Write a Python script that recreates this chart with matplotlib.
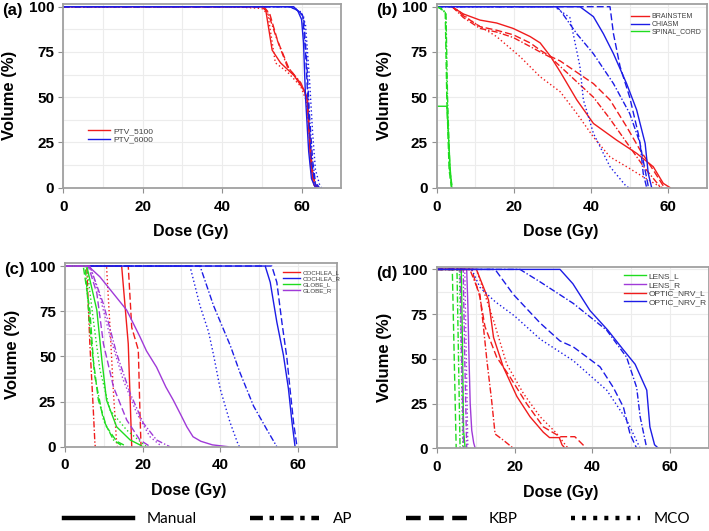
import matplotlib
matplotlib.use("Agg")
import matplotlib.pyplot as plt
from matplotlib.lines import Line2D
from matplotlib.ticker import MultipleLocator

plt.rcParams['font.family'] = ['Liberation Sans', 'DejaVu Sans']

# ---- data: (dose Gy, volume %) per structure and plan method ----
methods = ['Manual', 'AP', 'KBP', 'MCO']

# (a)
PTV_5100 = {
    'Manual': ([0, 50, 51, 52.6, 54.7, 58.1, 60.6, 61.4, 61.9, 62.3, 63.1, 64], [100, 100, 98, 76, 69, 62, 54, 48.5, 30, 11.6, 1.5, 0]),
    'AP': ([0, 50, 51.5, 53.8, 56.4, 59.8, 61.4, 62, 62.5, 63.2, 64], [100, 100, 97, 82, 67, 58, 50, 30, 12, 2, 0]),
    'KBP': ([0, 50.5, 52, 54, 56.8, 60, 61.5, 62.1, 62.7, 63.4, 64.2], [100, 100, 96, 81, 66, 57, 49, 28, 10, 2, 0]),
    'MCO': ([0, 43, 50, 51.5, 53.4, 56.4, 59.8, 61.2, 61.9, 62.6, 63.5, 64.5], [100, 100, 99, 96, 69, 64, 56, 48, 30, 10, 2, 0]),
}
PTV_6000 = {
    'Manual': ([0, 57, 59, 60, 60.5, 61, 61.8, 62.5, 63.5], [100, 100, 98, 93, 80, 50, 20, 5, 0]),
    'AP': ([0, 58, 60.5, 61.3, 62, 62.8, 63.5, 64.5], [100, 100, 95, 70, 40, 15, 3, 0]),
    'KBP': ([0, 58, 60.3, 61, 61.8, 62.5, 63.3, 64], [100, 100, 95, 75, 40, 15, 3, 0]),
    'MCO': ([0, 57, 60, 61, 62, 62.8, 63.5, 64.5, 65], [100, 100, 97, 90, 60, 30, 10, 2, 0]),
}

# (b)
BRAINSTEM = {
    'Manual': ([3.9, 6.9, 11.2, 15.5, 19.8, 24.2, 26.8, 29.5, 32, 36.3, 40.6, 46.6, 51.8, 56.1, 58.7, 60.5],
               [100, 96, 92.6, 91, 88, 83.5, 80, 72.5, 64, 48.5, 35.5, 26.3, 19, 11.6, 2.4, 0]),
    'AP': ([4, 6.9, 11.2, 15.5, 19.8, 24.2, 26.8, 29.5, 32, 40.6, 44.9, 49.2, 53.5, 57.9, 58.5],
           [100, 94, 88, 86, 83, 78, 75, 72, 67, 50, 38, 25, 12, 0.5, 0]),
    'KBP': ([4, 6.9, 11.2, 15.5, 19.8, 24.2, 26.8, 29.5, 32, 40.6, 44.9, 49.2, 52.7, 56.1, 58.7, 59.5],
            [100, 95, 89, 87, 84.5, 80, 76, 72.5, 70, 57.5, 48.5, 33.7, 20.8, 9.8, 1, 0]),
    'MCO': ([4.3, 8.6, 15.5, 21.6, 26.8, 32, 36.3, 40.6, 44.9, 49.2, 53.5, 57.9, 58.5],
            [100, 92.6, 83.5, 72.4, 61.3, 53, 41, 28, 17, 11.6, 6, 0.5, 0]),
}
CHIASM = {
    'Manual': ([0, 37.1, 40.6, 43.2, 45.8, 49.2, 51.8, 54, 54.8, 55.7], [100, 100, 94.5, 85, 74, 57.5, 43, 24.5, 8, 0]),
    'AP': ([0, 31, 32, 36.3, 40.6, 45.8, 50, 52.7, 53.5, 54.4], [100, 100, 98, 85, 74, 57.5, 41, 24.5, 8, 0]),
    'KBP': ([0, 44.9, 45.8, 47.5, 50, 52.2, 53.5, 54.8, 55.5], [100, 100, 85, 67, 50, 30, 15, 1, 0]),
    'MCO': ([0, 30.5, 34.5, 37.1, 38, 40.6, 44.9, 49.2, 50], [100, 100, 94, 67, 48.5, 30, 11.6, 0.5, 0]),
}
SPINAL_CORD = {
    'Manual': ([0, 0, 2.6, 2.7, 3.5, 3.9], [100, 45, 45, 42, 10, 0]),
    'AP': ([0, 1.2, 2.4, 2.8, 3.4, 4.0], [100, 99, 96, 50, 10, 0]),
    'KBP': ([0, 0.9, 2.2, 2.6, 3.2, 3.8], [100, 99, 97, 50, 10, 0]),
    'MCO': ([0, 1.0, 2.3, 2.7, 3.3, 3.9], [100, 99, 97, 50, 10, 0]),
}

# (c)
COCHLEA_L = {
    'Manual': ([0, 14.6, 16.3, 17.2], [100, 100, 57, 0]),
    'AP': ([0, 5.6, 6.4, 7.3, 7.7, 7.8], [100, 100, 57, 20, 2, 0]),
    'KBP': ([0, 16.3, 17.2, 18.9, 19.3, 19.6], [100, 100, 66, 53.5, 20, 0]),
    'MCO': ([0, 10.7, 11.6, 12.5, 13.3, 13.5], [100, 100, 66, 29.5, 2, 0]),
}
COCHLEA_R = {
    'Manual': ([0, 51.6, 52.9, 54.6, 56.3, 57.6, 58.5, 59.3], [100, 100, 91, 69, 50.7, 32, 13.7, 0]),
    'AP': ([0, 34.8, 38.3, 42.6, 45.1, 48.6, 52, 54.6], [100, 100, 78, 56, 41, 22.5, 9.6, 0]),
    'KBP': ([0, 53.3, 54.6, 55.9, 57.2, 58, 58.9, 59.8], [100, 100, 91, 69, 49, 32, 13.7, 0]),
    'MCO': ([0, 32.2, 34.8, 37, 38.3, 40, 42.5, 44.7, 45], [100, 100, 78, 63.6, 50.7, 32, 13.7, 0.8, 0]),
}
GLOBE_L = {
    'Manual': ([0, 5.6, 8.2, 9.5, 10.7, 13.3, 16.8, 19.3, 20], [100, 100, 75.6, 48, 25.8, 11, 3.7, 1, 0]),
    'AP': ([0, 5.2, 6.4, 7.7, 9.9, 12.5, 15], [100, 100, 66, 38.7, 14.8, 3.7, 0]),
    'KBP': ([0, 4.7, 6.4, 7.3, 8.6, 10.7, 13.3, 16], [100, 100, 75.6, 48, 25.8, 11, 3, 0]),
    'MCO': ([0, 5.6, 7.3, 9, 11.6, 15.9, 19.3, 21], [100, 100, 70, 42.5, 20.3, 9.2, 3, 0]),
}
GLOBE_R = {
    'Manual': ([0, 6, 9, 12, 15.9, 19.3, 21, 23.6, 26, 27.9, 30, 31.4, 33, 35, 38, 42],
               [100, 100, 94, 86, 75.6, 60.9, 53, 44, 33, 25.8, 17, 11, 5.5, 3, 1, 0]),
    'AP': ([0, 6.4, 9.9, 13.3, 16.8, 20.2, 23.6, 27], [100, 100, 79, 51.6, 29.5, 13, 3.7, 0]),
    'KBP': ([0, 6, 8.2, 9.9, 12.5, 15.9, 19.3, 22], [100, 100, 85, 57, 33, 14.8, 3.7, 0]),
    'MCO': ([0, 6.4, 9, 11.6, 15, 18.5, 21.9, 25], [100, 100, 83, 61, 37, 18.5, 5.5, 0]),
}

# (d)
LENS_L = {
    'Manual': ([0, 6.3, 6.6, 6.9, 7.3], [100, 100, 60, 10, 0]),
    'AP': ([0, 5.2, 5.6, 6.0], [100, 100, 50, 0]),
    'KBP': ([0, 4.0, 4.5, 5.0], [100, 100, 50, 0]),
    'MCO': ([0, 5.8, 6.3, 6.7], [100, 100, 50, 0]),
}
LENS_R = {
    'Manual': ([0, 7.7, 8.0, 8.3, 8.6, 9.0, 9.5, 9.9], [100, 100, 80, 50, 25, 10, 3, 0]),
    'AP': ([0, 6.8, 7.2, 7.7], [100, 100, 50, 0]),
    'KBP': ([0, 6.0, 6.4, 6.9], [100, 100, 50, 0]),
    'MCO': ([0, 7.2, 7.6, 8.0], [100, 100, 50, 0]),
}
OPTIC_NRV_L = {
    'Manual': ([0, 10.2, 13.3, 14.6, 17.1, 20.6, 24, 27.4, 29, 31.5, 32.2, 33], [100, 100, 83, 62, 45.5, 29, 17.6, 9, 6, 6, 2, 0]),
    'AP': ([0, 8.5, 11.1, 12, 12.9, 14.1, 15, 17.1, 19.7], [100, 100, 86, 68, 49, 27, 8, 4.6, 0]),
    'KBP': ([0, 9, 11.1, 12.4, 15.4, 18.8, 23.1, 27.4, 31.7, 35.5, 38.5], [100, 100, 84.5, 68, 51, 40, 25, 12, 6.5, 6.5, 0]),
    'MCO': ([0, 10.2, 14.6, 18, 22.3, 26.6, 30.8, 33.4, 34], [100, 100, 71.5, 47, 30.6, 17.6, 8.4, 1, 0]),
}
OPTIC_NRV_R = {
    'Manual': ([0, 31.7, 35, 39.4, 44, 48, 51, 54, 54.8, 56, 57], [100, 100, 92, 77, 66, 55, 47, 32.5, 12, 2, 0]),
    'AP': ([0, 21.4, 26.6, 35.1, 43.7, 48.8, 51.4, 52.3, 54], [100, 100, 93, 81, 66, 51, 34, 17.6, 0]),
    'KBP': ([0, 15, 19.7, 26.6, 31.7, 35.1, 42, 45.4, 48, 49.7, 51.4], [100, 100, 86, 70, 60, 56.7, 45.5, 34, 23, 8, 0]),
    'MCO': ([0, 9, 11.1, 15, 20, 26.6, 35.1, 43.7, 48.8, 52.3], [100, 100, 90, 82, 74, 61, 49, 32.5, 16, 0]),
}

RED = '#f01c1c'
BLUE = '#1c1ce6'
GREEN = '#1fdc1f'
PURPLE = '#a03ad8'

styles = {
    'Manual': '-',
    'AP': (0, (4.5, 1.5, 1, 1.5)),
    'KBP': (0, (5, 2.2)),
    'MCO': (0, (1, 1.8)),
}

# tag, axes rect, ylim top, structures, legend anchor, legend font, legend handle length
panels = [
    ('(a)', [0.0893, 0.6465, 0.392, 0.346], 101.5,
     [('PTV_5100', PTV_5100, RED), ('PTV_6000', PTV_6000, BLUE)], (0.075, 0.285), 6, 2.6),
    ('(b)', [0.616, 0.6465, 0.381, 0.346], 101.5,
     [('BRAINSTEM', BRAINSTEM, RED), ('CHIASM', CHIASM, BLUE), ('SPINAL_CORD', SPINAL_CORD, GREEN)],
     (0.705, 0.888), 5, 2.6),
    ('(c)', [0.0917, 0.1588, 0.383, 0.346], 101.7,
     [('COCHLEA_L', COCHLEA_L, RED), ('COCHLEA_R', COCHLEA_R, BLUE), ('GLOBE_L', GLOBE_L, GREEN),
      ('GLOBE_R', GLOBE_R, PURPLE)], (0.79, 0.9), 4.5, 2.8),
    ('(d)', [0.616, 0.1557, 0.384, 0.342], 101.5,
     [('LENS_L', LENS_L, GREEN), ('LENS_R', LENS_R, PURPLE), ('OPTIC_NRV_L', OPTIC_NRV_L, RED),
      ('OPTIC_NRV_R', OPTIC_NRV_R, BLUE)], (0.672, 0.876), 6, 2.6),
]

fig = plt.figure(figsize=(7.09, 5.31), dpi=100)

for tag, rect, ytop, structs, leg_pos, leg_fs, leg_hl in panels:
    ax = fig.add_axes(rect)
    for name, data, col in structs:
        for m in methods:
            d, v = data[m]
            ax.plot(d, v, color=col, lw=1.0, linestyle=styles[m])
    ax.set_xlim(0, 70)
    ax.set_ylim(0, ytop)
    ax.set_xticks([0, 20, 40, 60])
    ax.set_yticks([0, 25, 50, 75, 100])
    ax.xaxis.set_minor_locator(MultipleLocator(10))
    ax.yaxis.set_minor_locator(MultipleLocator(12.5))
    ax.grid(True, which='both', color='#ececec', lw=0.8)
    ax.set_axisbelow(True)
    for s in ax.spines.values():
        s.set_color('#a0a0a0')
        s.set_linewidth(1.3)
    ax.tick_params(which='major', direction='out', length=3.5, width=0.8, color='#909090',
                   labelsize=11, pad=3)
    ax.tick_params(axis='x', which='major', pad=5)
    ax.tick_params(which='minor', length=0)
    for lab in ax.get_xticklabels() + ax.get_yticklabels():
        lab.set_fontweight('bold')
    ax.set_xlabel('Dose (Gy)', fontsize=11.5, fontweight='bold')
    ax.set_ylabel('Volume (%)', fontsize=12, fontweight='bold')
    ax.xaxis.set_label_coords(0.457, -0.2)
    ax.yaxis.set_label_coords(-0.165, 0.5)

    handles = [Line2D([], [], color=col, lw=1.0) for _, _, col in structs]
    ax.legend(handles, [n for n, _, _ in structs], loc='center left', bbox_to_anchor=leg_pos,
              frameon=False, fontsize=leg_fs, labelcolor='#404040', handlelength=leg_hl,
              handletextpad=0.4, labelspacing=0.1, borderpad=0)

    bx = rect[0] - 0.086
    fig.text(bx, rect[1] + rect[3] - 0.012, tag, fontsize=12, fontweight='bold', ha='left', va='center')

# bottom legend for plan methods
leg_handles = [
    Line2D([], [], color='black', lw=3.2, linestyle='-'),
    Line2D([], [], color='black', lw=3.2, linestyle=(0, (2.9, 1.5, 1.0, 1.5))),
    Line2D([], [], color='black', lw=3.2, linestyle=(0, (3.3, 1.9))),
    Line2D([], [], color='black', lw=3.2, linestyle=(0, (0.9, 1.6))),
]
fig.legend(leg_handles, methods, loc='center', bbox_to_anchor=(0.532, 0.022), ncol=4, frameon=False,
           handlelength=4.5, handletextpad=0.9, columnspacing=3.5,
           prop={'family': 'Lato', 'size': 11})

fig.savefig('out.png', dpi=100)
